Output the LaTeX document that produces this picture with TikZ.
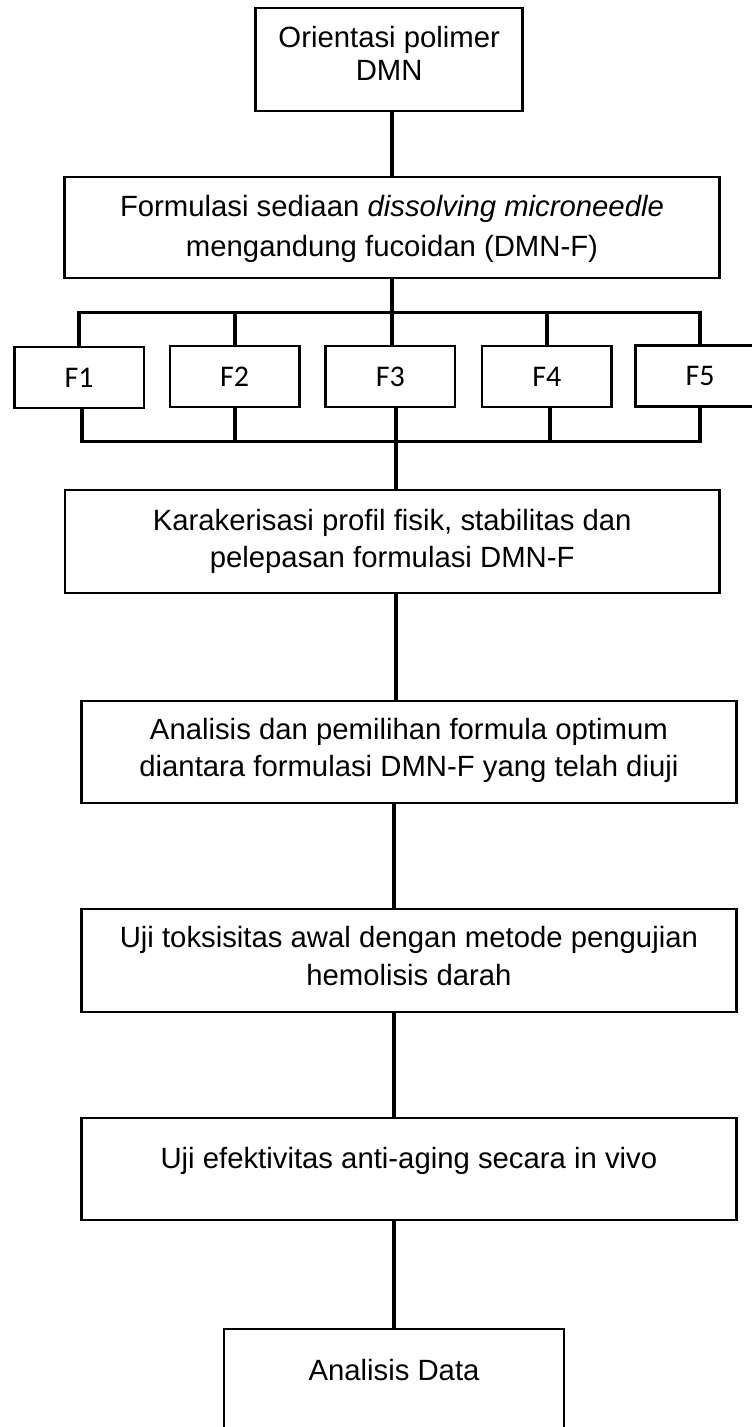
\documentclass[tikz,border=0pt]{standalone}
\usepackage{fontspec}
\setmainfont{Liberation Sans}
\newfontfamily\calfont{Carlito}
% #1 lift of last baseline above node centre, #2 baselineskip, #3 lines
\newcommand\BoxText[3]{{\fontsize{29.3}{#2}\selectfont
  \raisebox{#1}[0pt][0pt]{\begin{tabular}[b]{@{}c@{}}#3\end{tabular}}}}
\begin{document}
\begin{tikzpicture}[x=1pt,y=-1pt,
  stepbox/.style={draw, line width=2.5pt, rectangle, inner sep=0pt},
  formbox/.style={draw, line width=2.5pt, rectangle, inner sep=0pt,
    minimum width=129.5pt, minimum height=61pt, text height=19.3pt, text depth=0pt,
    font=\calfont\fontsize{30}{36}\selectfont},
  conn/.style={line width=4pt},
  bus/.style={line width=3.5pt, line join=miter}
]
\useasboundingbox (0,0) rectangle (752,1427);
\clip (0,0) rectangle (752,1427);

% main boxes
\node[stepbox, minimum width=267pt, minimum height=103pt] (B1) at (389.2,59.5)
  {\BoxText{-20.5pt}{32.5pt}{Orientasi polimer\\DMN}};
\node[stepbox, minimum width=654.7pt, minimum height=101pt] (B2) at (392,227.5)
  {\BoxText{-28.5pt}{39.3pt}{Formulasi sediaan \textit{dissolving microneedle}\\mengandung fucoidan (DMN-F)}};
\node[stepbox, minimum width=654.4pt, minimum height=103pt] (B3) at (392.2,541.5)
  {\BoxText{-25.8pt}{37.3pt}{Karakerisasi profil fisik, stabilitas dan\\pelepasan formulasi DMN-F}};
\node[stepbox, minimum width=654.7pt, minimum height=102pt] (B4) at (408.9,752)
  {\BoxText{-24pt}{36.7pt}{Analisis dan pemilihan formula optimum\\diantara formulasi DMN-F yang telah diuji}};
\node[stepbox, minimum width=654.7pt, minimum height=103pt] (B5) at (408.9,960.5)
  {\BoxText{-24.5pt}{37.3pt}{Uji toksisitas awal dengan metode pengujian\\hemolisis darah}};
\node[stepbox, minimum width=654.7pt, minimum height=102pt] (B6) at (408.9,1169)
  {\BoxText{0.5pt}{36pt}{Uji efektivitas anti-aging secara in vivo}};
\node[stepbox, minimum width=340pt, minimum height=118pt] (B7) at (394,1388)
  {\BoxText{8pt}{36pt}{Analisis Data}};

% formula boxes
\node[formbox] (F1) at (79,377.5) {F1};
\node[formbox] (F2) at (234.5,376.5) {F2};
\node[formbox] (F3) at (390.4,376.5) {F3};
\node[formbox] (F4) at (546.8,376.5) {F4};
\node[formbox] (F5) at (700,376) {F5};

% bus coordinates
\coordinate (TB) at (392,312.7);
\coordinate (BB) at (395.7,441.7);
\coordinate (cx) at (394.2,0);

% connectors
\draw[conn] (B2.north |- B1.south) -- (B2.north);
\draw[conn] (B2.south) -- (B2.south |- F3.north);
\draw[bus] (F1.north) |- (TB) -| (F5.north);
\draw[conn] (F2.north) -- (F2.north |- TB);
\draw[conn] (F4.north) -- (F4.north |- TB);

\draw[bus] ([xshift=3pt]F1.south) |- (BB) -| (F5.south);
\draw[conn] (F2.south) -- (F2.south |- BB);
\draw[conn] (F3.south -| BB) -- (BB);
\draw[conn] ([xshift=3pt]F4.south) -- ([xshift=3pt]F4.south |- BB);
\draw[conn] (BB) -- (BB |- B3.north);

\draw[conn] (B3.south -| BB) -- (B4.north -| BB);
\draw[conn] (B4.south -| cx) -- (B5.north -| cx);
\draw[conn] (B5.south -| cx) -- (B6.north -| cx);
\draw[conn] (B6.south -| cx) -- (B7.north -| cx);
\end{tikzpicture}
\end{document}
